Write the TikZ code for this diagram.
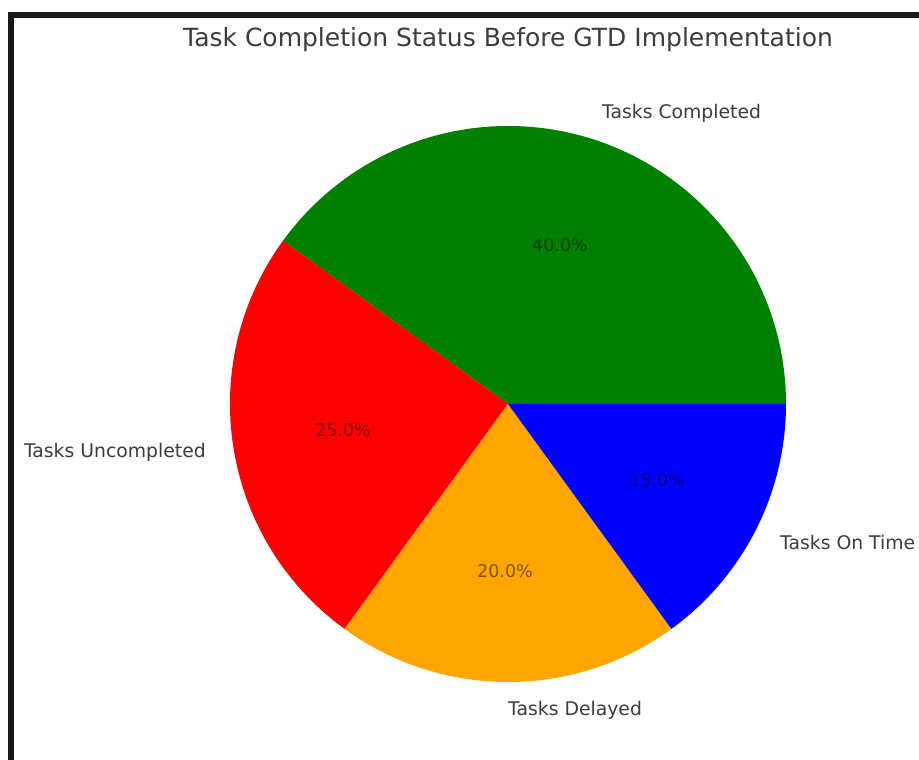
\documentclass[tikz,border=0pt]{standalone}
\usepackage{fontspec}
\setmainfont{DejaVu Sans}
\usepackage{tikz}
\usetikzlibrary {positioning,calc}

\definecolor{mplgreen}{HTML}{008000}
\definecolor{mplred}{HTML}{FF0000}
\definecolor{mplorange}{HTML}{FFA500}
\definecolor{mplblue}{HTML}{0000FF}
\definecolor{labelgray}{HTML}{3C3C3C}

\begin{document}
\begin{tikzpicture}[
    x=1pt, y=1pt,
    slice/.style={
        draw=none
    },
    pielabel/.style={
        text=labelgray, font=\fontsize{18.8}{21}\selectfont, inner sep=0pt
    },
    pct/.style={
        text=black, text opacity=0.5, font=\fontsize{17.5}{20}\selectfont, inner sep=0pt
    }
]
    \useasboundingbox (0,0) rectangle (919,760);

    % screenshot frame
    \draw [line width=6pt, color=black!90] (11,0) -- (11,745) -- (919,745);

    \coordinate (ctr) at (508,356);

    \fill [slice, mplgreen] (ctr) -- ++(0:278pt) arc [start angle=0, end angle=144, radius=278pt] -- cycle;
    \fill [slice, mplred] (ctr) -- ++(144:278pt) arc [start angle=144, end angle=234, radius=278pt] -- cycle;
    \fill [slice, mplorange] (ctr) -- ++(234:278pt) arc [start angle=234, end angle=306, radius=278pt] -- cycle;
    \fill [slice, mplblue] (ctr) -- ++(306:278pt) arc [start angle=306, end angle=360, radius=278pt] -- cycle;

    \node (title) [text=labelgray, font=\fontsize{25}{28}\selectfont, inner sep=0pt] at (508,720) {Task Completion Status Before GTD Implementation};

    \node (com) [pielabel, anchor=west] at (602,647) {Tasks Completed};
    \node (unc) [pielabel, anchor=east] at (206,308) {Tasks Uncompleted};
    \node (del) [pielabel, anchor=west] at (508,50) {Tasks Delayed};
    \node (ont) [pielabel, anchor=west] at (780,218) {Tasks On Time};

    \node (pcom) [pct] at (560,515) {40.0\%};
    \node (punc) [pct] at (343,330) {25.0\%};
    \node (pdel) [pct] at (505,189) {20.0\%};
    \node (pont) [pct] at (657,280) {15.0\%};
\end{tikzpicture}
\end{document}
